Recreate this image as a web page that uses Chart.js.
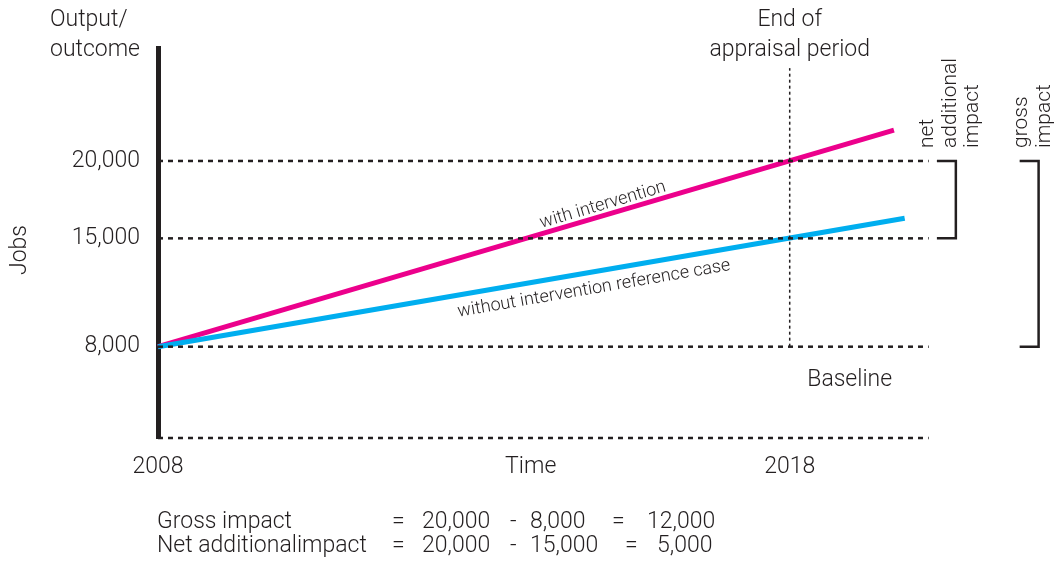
<!DOCTYPE html>
<html>
<head>
<meta charset="utf-8">
<script src="https://cdn.jsdelivr.net/npm/chart.js@4"></script>
<style>
  html, body { margin: 0; padding: 0; background: #fff; }
  #wrap { width: 1061px; height: 563px; position: relative; }
</style>
</head>
<body>
<div id="wrap"><canvas id="impactChart"></canvas></div>
<script>
// ── Data ──
const withYears = [2008, 2019.65];
const withJobs = [8000, 22000];
const withoutYears = [2008, 2019.82];
const withoutJobs = [8000, 16300];

const refLevels = [20000, 15000, 8000, 2100];
const refSpan = [2008, 2020.2];

const appraisalYear = 2018;
const appraisalSpan = [8000, 26000];

const netBracketX = [2020.33, 2020.63];
const netBracketY = [20000, 15000];
const grossBracketX = [2021.64, 2021.94];
const grossBracketY = [20000, 8000];

const yTicks = [8000, 15000, 20000];
const xTicks = [2008, 2013.9, 2018];
const xTickLabels = ['2008', 'Time', '2018'];

const eqLabels = ['Gross impact', 'Net additionalimpact'];
const eqFrom = ['20,000', '20,000'];
const eqLess = ['8,000', '15,000'];
const eqResult = ['12,000', '5,000'];

// ── Styles ──
const INK = '#231f20';
const FONT = 'Roboto, "Liberation Sans", sans-serif';
Chart.defaults.font.family = FONT;
Chart.defaults.color = INK;

const pts = (xs, ys) => xs.map((x, i) => ({ x, y: ys[i] }));

function refLine(level) {
  return {
    data: pts(refSpan, [level, level]),
    borderColor: INK, borderWidth: 2.5, borderDash: [5, 5],
    pointRadius: 0, clip: false,
  };
}

function bracket(xs, ys) {
  return {
    data: pts([xs[0], xs[1], xs[1], xs[0]], [ys[0], ys[0], ys[1], ys[1]]),
    borderColor: INK, borderWidth: 2.5, pointRadius: 0, clip: false, tension: 0,
  };
}

const datasets = [
  ...refLevels.map(refLine),
  {
    data: pts([appraisalYear, appraisalYear], appraisalSpan),
    borderColor: INK, borderWidth: 1.5, borderDash: [3, 3], pointRadius: 0, clip: false,
  },
  bracket(netBracketX, netBracketY),
  bracket(grossBracketX, grossBracketY),
  {
    data: pts(withoutYears, withoutJobs),
    borderColor: '#00aeef', borderWidth: 5, pointRadius: 0, clip: false, borderCapStyle: 'butt',
  },
  {
    data: pts(withYears, withJobs),
    borderColor: '#ec008c', borderWidth: 5, pointRadius: 0, clip: false, borderCapStyle: 'butt',
  },
];

// ── Annotation text ──
function rotatedText(ctx, text, x, y, angle, align) {
  ctx.save();
  ctx.translate(x, y);
  ctx.rotate(angle);
  ctx.textAlign = align || 'center';
  ctx.fillText(text, 0, 0);
  ctx.restore();
}

function labelOnLine(chart, dsIndex, t, offset, text) {
  const meta = chart.getDatasetMeta(dsIndex).data;
  const a = meta[0], b = meta[meta.length - 1];
  const ang = Math.atan2(b.y - a.y, b.x - a.x);
  const x = a.x + (b.x - a.x) * t - Math.sin(ang) * -offset;
  const y = a.y + (b.y - a.y) * t + Math.cos(ang) * offset;
  rotatedText(chart.ctx, text, x, y, ang);
}

const textPlugin = {
  id: 'textPlugin',
  afterDraw(chart) {
    const ctx = chart.ctx;
    const xs = chart.scales.x;
    const ys = chart.scales.y;
    ctx.save();
    ctx.fillStyle = INK;
    ctx.textBaseline = 'middle';
    ctx.font = `300 23px ${FONT}`;

    ctx.textAlign = 'left';
    ctx.fillText('Output/', 50, 20);
    ctx.fillText('outcome', 50, 50);

    rotatedText(ctx, 'Jobs', 20, 250, -Math.PI / 2);

    const ax = xs.getPixelForValue(appraisalYear);
    ctx.textAlign = 'center';
    ctx.fillText('End of', ax, 20);
    ctx.fillText('appraisal period', ax, 50);

    ctx.fillText('Baseline', ax + 60, ys.getPixelForValue(8000) + 34);

    // line labels
    ctx.font = `300 18px ${FONT}`;
    labelOnLine(chart, 8, 0.6, -12, 'with intervention');
    labelOnLine(chart, 7, 0.588, 18, 'without intervention reference case');

    // bracket labels
    ctx.font = `300 21px ${FONT}`;
    ctx.textBaseline = 'alphabetic';
    [['net', 933], ['additional', 956], ['impact', 978], ['gross', 1027], ['impact', 1050]]
      .forEach(([t, x]) => rotatedText(ctx, t, x, 148, -Math.PI / 2, 'left'));

    // equations
    ctx.font = `300 23px ${FONT}`;
    ctx.textBaseline = 'middle';
    ctx.textAlign = 'left';
    const rowY = [522, 546];
    const eqX = [612, 625];
    const resX = [647, 657];
    eqLabels.forEach((lbl, i) => {
      ctx.fillText(lbl, 157, rowY[i]);
      ctx.fillText('=', 392, rowY[i]);
      ctx.fillText(eqFrom[i], 422, rowY[i]);
      ctx.fillText('-', 510, rowY[i]);
      ctx.fillText(eqLess[i], 530, rowY[i]);
      ctx.fillText('=', eqX[i], rowY[i]);
      ctx.fillText(eqResult[i], resX[i], rowY[i]);
    });
    ctx.restore();
  }
};

// ── Chart ──
new Chart(document.getElementById('impactChart'), {
  type: 'line',
  data: { datasets },
  plugins: [textPlugin],
  options: {
    responsive: true,
    maintainAspectRatio: false,
    animation: false,
    layout: { padding: { top: 48, right: 126, bottom: 0, left: 0 } },
    plugins: { legend: { display: false }, tooltip: { enabled: false } },
    scales: {
      x: {
        type: 'linear', min: 2008, max: 2020.3,
        border: { display: false },
        grid: { display: false, drawTicks: false },
        afterBuildTicks: s => { s.ticks = xTicks.map(v => ({ value: v })); },
        afterFit: s => { s.height = 125; },
        ticks: {
          font: { size: 23, weight: 300 }, padding: 15, maxRotation: 0, autoSkip: false,
          callback: (v, i) => xTickLabels[i],
        },
      },
      y: {
        type: 'linear', min: 2100, max: 27300,
        border: { display: true, color: INK, width: 5 },
        grid: { display: false, drawTicks: false },
        afterBuildTicks: s => { s.ticks = yTicks.map(v => ({ value: v })); },
        afterFit: s => { s.width = 158; },
        ticks: {
          font: { size: 23, weight: 300 }, padding: 18,
          callback: v => v.toLocaleString('en-US'),
        },
      },
    },
  },
});
</script>
</body>
</html>
